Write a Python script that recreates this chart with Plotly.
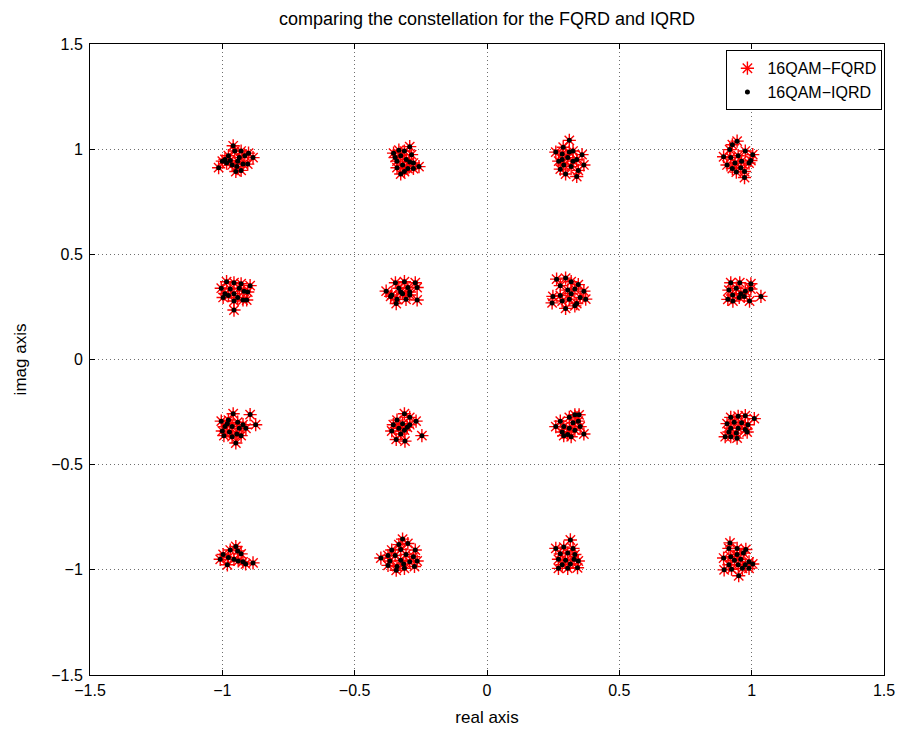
import plotly.graph_objects as go

# Received symbols (real / imaginary parts)
fqrd_re = [
    # (-0.95, 0.95)
    -1.014, -0.959, -0.929, -0.884, -0.904, -0.949, -0.929, -0.990, -0.977, -0.942,
    -0.915, -0.963, -0.901, -0.984, -0.936, -0.953, -0.922, -0.970, -0.945, -1.000,
    # (-0.32, 0.95)
    -0.292, -0.353, -0.312, -0.326, -0.285, -0.340, -0.305, -0.278, -0.257, -0.319,
    -0.340, -0.299, -0.326, -0.347, -0.278, -0.312, -0.333, -0.292,
    # (0.32, 0.95)
    0.311, 0.288, 0.260, 0.325, 0.284, 0.359, 0.305, 0.339, 0.271, 0.366,
    0.290, 0.318, 0.277, 0.345, 0.297, 0.339, 0.325, 0.284, 0.311,
    # (0.95, 0.95)
    0.945, 0.927, 0.976, 0.894, 0.921, 0.949, 1.004, 0.962, 0.997, 0.907,
    0.937, 0.990, 0.927, 0.959, 0.942, 0.973, 0.973, 0.917,
    # (-0.95, 0.32)
    -0.984, -0.956, -0.929, -0.895, -1.004, -0.970, -0.936, -0.904, -0.990, -0.956,
    -0.997, -0.977, -0.942, -0.922, -0.908, -0.956, -0.956, -0.918,
    # (-0.32, 0.32)
    -0.346, -0.312, -0.271, -0.381, -0.360, -0.333, -0.299, -0.264, -0.319, -0.292,
    -0.340, -0.306, -0.264, -0.343, -0.364, -0.326, -0.292,
    # (0.32, 0.32)
    0.263, 0.297, 0.318, 0.345, 0.277, 0.305, 0.332, 0.366, 0.249, 0.277,
    0.318, 0.352, 0.373, 0.246, 0.284, 0.311, 0.339, 0.297, 0.332,
    # (0.95, 0.32)
    0.921, 0.955, 0.997, 0.914, 0.942, 0.976, 0.997, 0.928, 0.959, 0.910,
    0.929, 0.953, 0.992, 1.035, 0.972,
    # (-0.95, -0.32)
    -0.959, -0.895, -0.874, -1.004, -0.977, -0.942, -0.922, -0.990, -0.963, -0.936,
    -0.911, -1.000, -0.973, -0.945, -0.994, -0.963, -0.929, -0.949, -0.981,
    # (-0.32, -0.32)
    -0.312, -0.292, -0.340, -0.268, -0.354, -0.319, -0.292, -0.333, -0.360, -0.312,
    -0.326, -0.246, -0.343, -0.310, -0.301,
    # (0.32, -0.32)
    0.332, 0.348, 0.311, 0.277, 0.345, 0.325, 0.260, 0.290, 0.352, 0.311,
    0.332, 0.284, 0.366, 0.305, 0.318, 0.290,
    # (0.95, -0.32)
    0.921, 0.949, 0.976, 1.010, 0.907, 0.934, 0.962, 0.986, 0.921, 0.949,
    0.976, 0.914, 0.942, 0.900, 0.921, 0.945, 0.983,
    # (-0.95, -0.95)
    -0.949, -0.997, -0.970, -0.929, -1.008, -0.977, -0.956, -0.940, -0.981, -0.922,
    -0.912, -0.884, -0.942,
    # (-0.32, -0.95)
    -0.319, -0.333, -0.299, -0.360, -0.326, -0.271, -0.401, -0.374, -0.347, -0.306,
    -0.278, -0.367, -0.326, -0.292, -0.264, -0.374, -0.340, -0.312, -0.274, -0.343,
    -0.315,
    # (0.32, -0.95)
    0.315, 0.260, 0.290, 0.325, 0.277, 0.305, 0.332, 0.270, 0.297, 0.329,
    0.345, 0.284, 0.315, 0.270, 0.305, 0.342,
    # (0.95, -0.95)
    0.918, 0.914, 0.945, 0.978, 0.894, 0.921, 0.945, 0.969, 0.935, 0.959,
    0.990, 0.914, 0.949, 0.976, 1.004, 0.896, 0.924, 0.965, 0.990, 0.951,
]

fqrd_im = [
    # (-0.95, 0.95)
    0.912, 1.016, 0.991, 0.960, 0.929, 0.894, 0.899, 0.951, 0.969, 0.943,
    0.969, 0.925, 0.981, 0.934, 0.960, 0.991, 0.929, 0.946, 0.917, 0.943,
    # (-0.32, 0.95)
    1.012, 0.981, 0.991, 0.969, 0.974, 0.943, 0.951, 0.934, 0.917, 0.925,
    0.912, 0.908, 0.882, 0.960, 0.908, 0.894, 0.995, 0.939,
    # (0.32, 0.95)
    1.042, 1.009, 0.986, 0.991, 0.977, 0.974, 0.960, 0.951, 0.943, 0.925,
    0.925, 0.917, 0.905, 0.899, 0.882, 0.870, 0.943, 0.951, 0.986,
    # (0.95, 0.95)
    1.038, 1.021, 0.991, 0.964, 0.960, 0.969, 0.974, 0.943, 0.946, 0.925,
    0.934, 0.934, 0.908, 0.912, 0.891, 0.894, 0.865, 0.998,
    # (-0.95, 0.32)
    0.370, 0.365, 0.360, 0.351, 0.339, 0.335, 0.339, 0.321, 0.313, 0.313,
    0.295, 0.304, 0.295, 0.283, 0.283, 0.278, 0.235, 0.325,
    # (-0.32, 0.32)
    0.365, 0.370, 0.365, 0.325, 0.307, 0.339, 0.342, 0.342, 0.313, 0.307,
    0.286, 0.286, 0.283, 0.266, 0.300, 0.321, 0.321,
    # (0.32, 0.32)
    0.382, 0.387, 0.370, 0.356, 0.351, 0.330, 0.335, 0.325, 0.300, 0.304,
    0.313, 0.295, 0.287, 0.269, 0.278, 0.287, 0.266, 0.243, 0.255,
    # (0.95, 0.32)
    0.365, 0.365, 0.360, 0.330, 0.339, 0.325, 0.335, 0.307, 0.313, 0.286,
    0.278, 0.295, 0.278, 0.300, 0.300,
    # (-0.95, -0.32)
    -0.258, -0.262, -0.310, -0.293, -0.288, -0.298, -0.310, -0.319, -0.319, -0.327,
    -0.327, -0.340, -0.345, -0.354, -0.362, -0.367, -0.362, -0.397, -0.305,
    # (-0.32, -0.32)
    -0.258, -0.275, -0.288, -0.293, -0.310, -0.305, -0.310, -0.327, -0.340, -0.336,
    -0.354, -0.362, -0.380, -0.388, -0.322,
    # (0.32, -0.32)
    -0.263, -0.263, -0.275, -0.293, -0.293, -0.301, -0.319, -0.319, -0.319, -0.327,
    -0.336, -0.345, -0.354, -0.357, -0.367, -0.362,
    # (0.95, -0.32)
    -0.275, -0.270, -0.267, -0.281, -0.305, -0.298, -0.301, -0.310, -0.327, -0.327,
    -0.333, -0.345, -0.350, -0.367, -0.367, -0.374, -0.345,
    # (-0.95, -0.95)
    -0.889, -0.927, -0.906, -0.924, -0.950, -0.941, -0.950, -0.958, -0.976, -0.962,
    -0.972, -0.967, -0.910,
    # (-0.32, -0.95)
    -0.854, -0.880, -0.875, -0.906, -0.903, -0.906, -0.944, -0.932, -0.932, -0.927,
    -0.938, -0.958, -0.955, -0.962, -0.958, -0.979, -0.984, -0.993, -0.984, -1.002,
    -0.972,
    # (0.32, -0.95)
    -0.858, -0.898, -0.892, -0.898, -0.924, -0.920, -0.927, -0.950, -0.955, -0.950,
    -0.958, -0.976, -0.972, -0.993, -0.993, -0.990,
    # (0.95, -0.95)
    -0.872, -0.898, -0.898, -0.903, -0.944, -0.938, -0.927, -0.920, -0.955, -0.950,
    -0.962, -0.976, -0.976, -0.976, -0.972, -1.000, -0.997, -0.993, -0.993, -1.028,
]

# IQRD detector gives the same constellation points
iqrd_re = list(fqrd_re)
iqrd_im = list(fqrd_im)

tick_vals = [-1.5, -1, -0.5, 0, 0.5, 1, 1.5]
tick_text = ["\u22121.5", "\u22121", "\u22120.5", "0", "0.5", "1", "1.5"]

series_names = ["16QAM\u2212FQRD", "16QAM\u2212IQRD"]
title_text = "comparing the constellation for the FQRD and IQRD"

FONT = "Liberation Sans, Arial, Helvetica, sans-serif"

fig = go.Figure()
fig.add_trace(go.Scatter(
    x=fqrd_re, y=fqrd_im, mode="markers", name=series_names[0],
    marker=dict(symbol="asterisk-open", size=11, color="red",
                line=dict(color="red", width=1.4)),
))
fig.add_trace(go.Scatter(
    x=iqrd_re, y=iqrd_im, mode="markers", name=series_names[1],
    marker=dict(symbol="circle", size=5, color="black", line=dict(width=0)),
))

axis_common = dict(
    tickvals=tick_vals, ticktext=tick_text,
    showgrid=True, gridcolor="#6e6e6e", griddash="1px,3px", gridwidth=1,
    zeroline=False, showline=True, linecolor="black", linewidth=1,
    mirror="ticks", ticks="inside", ticklen=5, tickcolor="black",
    tickfont=dict(family=FONT, size=16, color="black"),
)

fig.update_layout(
    width=907, height=740,
    margin=dict(l=90, r=16, t=44, b=65),
    paper_bgcolor="white", plot_bgcolor="white",
    font=dict(family=FONT, color="black"),
    title=dict(text=title_text, x=0.5, xref="paper", y=1, yref="container",
               yanchor="top", pad=dict(t=12),
               font=dict(family=FONT, size=18, color="black")),
    xaxis=dict(range=[-1.5, 1.5], title=dict(text="real axis", standoff=12,
               font=dict(family=FONT, size=17)), ticklabelstandoff=1,
               **axis_common),
    yaxis=dict(range=[-1.5, 1.5], title=dict(text="imag axis", standoff=20,
               font=dict(family=FONT, size=17)), ticklabelstandoff=3,
               **axis_common),
    legend=dict(x=0.998, y=0.99, xanchor="right", yanchor="top",
                bgcolor="white", bordercolor="black", borderwidth=1,
                font=dict(family=FONT, size=16, color="black"),
                tracegroupgap=0, itemwidth=30),
    showlegend=True,
)

fig.write_html("out.html")
